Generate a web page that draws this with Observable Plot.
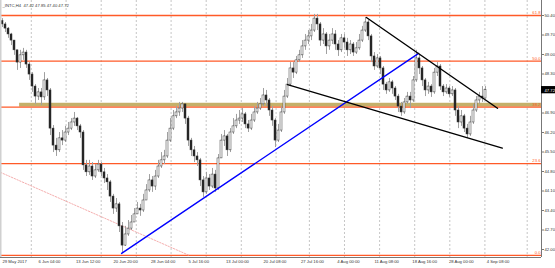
<!DOCTYPE html>
<html><head><meta charset="utf-8">
<script src="https://cdn.jsdelivr.net/npm/d3@7"></script>
<script src="https://cdn.jsdelivr.net/npm/@observablehq/plot@0.6"></script>
<style>html,body{margin:0;padding:0;background:#fff;}#chart svg{display:block;}</style>
</head><body><div id="chart"></div>
<script>
// ---- data ----
const title = "_INTC,H4  47.42 47.85 47.40 47.72";
const firstOpen = 50.20;
const closes = [50.08,49.93,49.72,49.50,49.15,48.71,48.97,49.07,48.64,48.28,47.85,47.49,47.64,47.46,48.07,47.71,46.34,45.73,45.56,45.99,
45.91,46.20,46.34,46.56,46.70,46.42,46.20,45.02,44.77,44.98,44.62,44.84,45.05,44.77,44.55,44.41,43.90,43.47,43.62,42.83,
42.14,42.54,42.75,42.97,43.26,43.47,43.40,43.76,44.12,44.48,44.26,44.62,44.98,45.20,45.34,45.91,46.34,46.78,46.92,47.06,
47.21,46.70,45.91,45.56,45.34,45.20,44.48,44.05,44.55,44.26,44.69,44.19,45.27,45.91,46.06,45.56,46.20,46.42,46.63,46.70,
46.85,46.49,46.34,46.63,46.92,47.06,47.21,47.53,47.35,46.99,46.63,45.91,46.27,46.92,47.49,47.92,48.50,48.35,48.79,48.97,
49.29,49.50,49.65,49.86,50.29,50.08,49.50,49.72,49.29,49.50,49.72,49.36,49.15,49.58,49.43,49.15,49.36,49.07,49.22,49.50,
49.86,50.15,49.65,48.93,48.57,48.86,48.50,47.92,47.71,48.00,47.78,47.49,47.13,46.92,47.28,47.49,47.35,48.07,48.86,48.50,
48.07,47.71,47.85,47.64,48.35,48.57,47.85,47.64,47.78,47.57,47.71,46.99,46.56,46.78,46.34,46.13,46.56,46.99,47.35,47.49,
47.42,47.72];
const highs = [50.29,50.15,49.97,49.76,49.50,49.15,49.15,49.22,49.15,48.71,48.35,47.92,47.78,47.78,48.35,48.14,47.78,46.45,45.99,46.20,
46.27,46.42,46.56,46.70,46.92,46.74,46.49,46.27,45.20,45.20,45.12,45.05,45.20,45.12,44.91,44.69,44.48,43.98,43.83,43.69,
42.97,42.83,43.04,43.22,43.47,43.69,43.62,43.98,44.33,44.69,44.62,44.84,45.20,45.48,45.56,46.20,46.70,46.99,47.13,47.28,
47.28,47.21,46.78,45.99,45.70,45.48,45.27,44.62,44.77,44.69,44.91,44.84,45.41,46.13,46.27,46.13,46.34,46.70,46.85,46.99,
47.06,46.92,46.63,46.85,47.13,47.28,47.42,47.78,47.71,47.42,47.13,46.70,46.49,47.13,47.71,48.14,48.71,48.71,48.93,49.15,
49.50,49.72,49.86,50.08,50.44,50.44,50.15,49.93,49.79,49.72,49.93,49.86,49.50,49.72,49.72,49.58,49.50,49.43,49.43,49.72,
50.01,50.33,50.22,49.72,49.07,49.00,48.93,48.57,48.00,48.14,48.07,47.85,47.57,47.28,47.42,47.64,47.64,48.21,49.15,49.00,
48.57,48.14,48.00,47.92,48.50,48.71,48.64,47.92,47.92,47.85,47.85,47.78,47.13,46.99,46.85,46.49,46.78,47.21,47.49,47.64,
47.85,47.85];
const lows = [49.97,49.79,49.58,49.32,48.97,48.43,48.50,48.79,48.50,48.07,47.64,47.21,47.35,47.17,47.35,47.49,46.09,45.48,45.34,45.48,
45.73,45.84,46.09,46.27,46.42,46.27,45.99,44.84,44.62,44.66,44.48,44.55,44.77,44.62,44.37,44.12,43.69,43.26,43.33,42.61,
41.86,42.11,42.47,42.68,42.97,43.26,43.19,43.33,43.76,44.05,44.05,44.12,44.55,44.91,45.05,45.27,45.84,46.27,46.70,46.78,
46.92,46.49,45.70,45.34,45.12,44.98,44.26,43.87,43.98,44.12,44.19,44.05,44.12,45.27,45.70,45.34,45.48,46.13,46.34,46.49,
46.56,46.34,46.20,46.27,46.56,46.85,46.99,47.13,47.13,46.78,46.42,45.66,45.84,46.20,46.85,47.42,47.85,48.14,48.28,48.71,
48.86,49.15,49.36,49.50,49.79,49.86,49.29,49.36,49.00,49.15,49.36,49.15,48.93,49.07,49.22,48.93,49.00,48.93,49.00,49.15,
49.43,49.79,49.50,48.71,48.43,48.50,48.28,47.71,47.57,47.64,47.57,47.35,46.92,46.78,46.85,47.21,47.06,47.28,48.00,48.28,
47.85,47.49,47.57,47.46,47.57,48.21,47.71,47.49,47.57,47.46,47.49,46.78,46.34,46.42,46.20,45.99,46.06,46.49,46.92,47.21,
47.28,47.40];

const fibNames  = ["0.0","23.6","38.2","50.0","61.8"];
const fibPrices = [41.79, 45.08, 47.11, 48.76, 50.40];
const bandTop = 47.25, bandBottom = 47.11, bandStartBar = 5.7;

// trend lines [bar, price]
const blueLine  = [[39.7, 41.86], [138.7, 49.04]];
const upperLine = [[121.3, 50.33], [165.0, 47.07]];
const lowerLine = [[95.0, 47.92], [166.6, 45.64]];
const pinkLine  = [[-0.7, 44.77], [62.0, 41.80]];

// 47.60 is hidden behind the last-price box in the reference
const yTicks = [42.00,42.70,43.40,44.10,44.80,45.50,46.20,46.90,48.30,49.00,49.70,50.40];
const lastPrice = 47.72;
const gridBars = [9.6,21.2,32.9,44.6,56.2,67.9,79.6,91.2,102.3,114.0,125.7,137.4,149.1,160.8,174.9];
const dateLabels = ["29 May 2017","6 Jun 04:00","13 Jun 12:00","20 Jun 20:00","28 Jun 04:00","5 Jul 16:00","13 Jul 00:00",
  "20 Jul 08:00","27 Jul 16:00","4 Aug 00:00","11 Aug 08:00","18 Aug 16:00","28 Aug 00:00","4 Sep 08:00"];
const dateBars = [0,12,24.5,37,49.5,62,74.5,87,99.5,111.6,124,136.6,148.8,161.4];

// ---- build ----
const xDomain = [-0.667, 179.667];
const yDomain = [41.713, 50.939];
const candles = closes.map((c, i) => {
  const o = i === 0 ? firstOpen : closes[i - 1];
  return {i, o, c, h: Math.max(highs[i], o, c), l: Math.min(lows[i], o, c), up: c >= o};
});
const seg = (pts) => pts.map(([b, p]) => ({b, p}));
const orange = "#ff5a28";
const fs = 4.2;

const chart = Plot.plot({
  width: 555, height: 268,
  marginLeft: 0, marginRight: 14, marginTop: 0, marginBottom: 11,
  x: {domain: xDomain, axis: null},
  y: {domain: yDomain, axis: null},
  style: {fontFamily: "'Liberation Sans', Arial, sans-serif", background: "#fff", overflow: "visible"},
  marks: [
    Plot.ruleX(gridBars, {x: d => d, stroke: "#b8b8b8", strokeDasharray: "2,2", strokeWidth: 0.8}),
    Plot.rect([0], {x1: bandStartBar, x2: xDomain[1], y1: bandBottom, y2: bandTop, fill: "#c4b06a"}),
    Plot.ruleY(fibPrices, {y: d => d, stroke: orange, strokeWidth: 1.3}),
    Plot.text(fibNames, {x: xDomain[1], y: (d, i) => fibPrices[i], text: d => d, textAnchor: "end", dx: -1, dy: -2.6, fill: orange, fontSize: fs}),
    Plot.line(seg(pinkLine), {x: "b", y: "p", stroke: "#f3a5a5", strokeWidth: 0.9, strokeDasharray: "1.5,1.5"}),
    Plot.ruleX(candles, {x: "i", y1: "l", y2: "h", stroke: "#a0a0a0", strokeWidth: 1}),
    Plot.rect(candles, {x1: d => d.i - 0.33, x2: d => d.i + 0.33, y1: "o", y2: "c", fill: d => d.up ? "#ffffff" : "#222", stroke: "#333", strokeWidth: 0.5}),
    Plot.line(seg(blueLine), {x: "b", y: "p", stroke: "#0000ff", strokeWidth: 1.4}),
    Plot.line(seg(upperLine), {x: "b", y: "p", stroke: "#000", strokeWidth: 1.4}),
    Plot.line(seg(lowerLine), {x: "b", y: "p", stroke: "#000", strokeWidth: 1.4}),
    Plot.ruleX([xDomain[1]], {stroke: "#777", strokeWidth: 1}),
    Plot.ruleY([yDomain[0]], {stroke: "#777", strokeWidth: 1}),
    Plot.ruleX([xDomain[0]], {stroke: "#d0d0d0", strokeWidth: 2}),
    Plot.axisY(yTicks, {anchor: "right", tickSize: 2, tickPadding: 1, fontSize: fs, tickFormat: d => d.toFixed(2), fill: "#333", stroke: "#777"}),
    Plot.rect([lastPrice], {x1: xDomain[1], x2: xDomain[1] + 4.7, y1: d => d - 0.13, y2: d => d + 0.13, fill: "#000"}),
    Plot.text([lastPrice], {x: xDomain[1], y: d => d, text: d => d.toFixed(2), dx: 3, textAnchor: "start", fill: "#fff", fontSize: fs}),
    Plot.text(dateLabels, {x: (d, i) => dateBars[i], frameAnchor: "bottom", text: d => d, textAnchor: "start", dy: 5.5, fill: "#333", fontSize: fs}),
    Plot.text([title], {frameAnchor: "top-left", text: d => d, dx: 2, dy: 4, textAnchor: "start", fill: "#333", fontSize: fs})
  ]
});
document.getElementById("chart").appendChild(chart);
</script></body></html>
